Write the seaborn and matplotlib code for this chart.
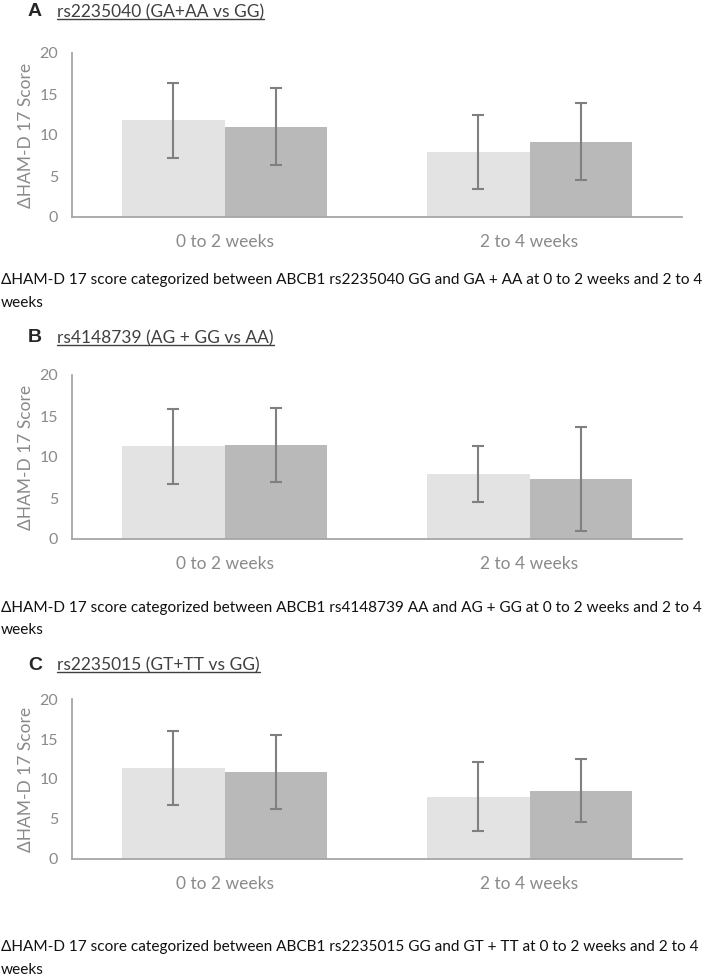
import matplotlib
matplotlib.use("Agg")
import matplotlib.pyplot as plt
import seaborn as sns
import pandas as pd
from matplotlib.lines import Line2D

periods = ["0 to 2 weeks", "2 to 4 weeks"]

# Panel A: rs2235040
A_groups = ["GG", "GA + AA"]
A_light = [11.8, 7.9]
A_light_sd = [4.6, 4.5]
A_dark = [11.0, 9.2]
A_dark_sd = [4.7, 4.7]

# Panel B: rs4148739
B_groups = ["AA", "AG + GG"]
B_light = [11.3, 7.9]
B_light_sd = [4.55, 3.4]
B_dark = [11.45, 7.3]
B_dark_sd = [4.55, 6.35]

# Panel C: rs2235015
C_groups = ["GG", "GT + TT"]
C_light = [11.35, 7.8]
C_light_sd = [4.6, 4.35]
C_dark = [10.9, 8.55]
C_dark_sd = [4.6, 3.9]

letters = ["A", "B", "C"]
titles = ["rs2235040 (GA+AA vs GG)", "rs4148739 (AG + GG vs AA)", "rs2235015 (GT+TT vs GG)"]
captions_l1 = [
    "\u0394HAM-D 17 score categorized between ABCB1 rs2235040 GG and GA + AA at 0 to 2 weeks and 2 to 4",
    "\u0394HAM-D 17 score categorized between ABCB1 rs4148739 AA and AG + GG at 0 to 2 weeks and 2 to 4",
    "\u0394HAM-D 17 score categorized between ABCB1 rs2235015 GG and GT + TT at 0 to 2 weeks and 2 to 4",
]
caption_l2 = "weeks"
ylabel = "\u0394HAM-D 17 Score"
yticks = [0, 5, 10, 15, 20]

sns.set_theme(style="white")
FAM = ["Lato", "DejaVu Sans"]
plt.rcParams["font.family"] = FAM

W, H = 709, 976
fig = plt.figure(figsize=(W / 100, H / 100), dpi=100)

LIGHT = "#E3E3E3"
DARK = "#B9B9B9"
ERR = "#808080"
AX = "#A6A6A6"
TXT = "#8A8A8A"

# panel layout in pixels: (axes top, axes bottom, title y, caption y1, caption y2)
layout = [
    (53, 217, 12, 280, 303),
    (375, 539, 338, 608, 630),
    (699, 859, 665, 947, 970),
]

panels = [
    (A_groups, A_light, A_light_sd, A_dark, A_dark_sd),
    (B_groups, B_light, B_light_sd, B_dark, B_dark_sd),
    (C_groups, C_light, C_light_sd, C_dark, C_dark_sd),
]

def fx(px):
    return px / W

def fy(py):
    return 1 - py / H

underline_items = []
caption_items = []
for i, (groups, light, lsd, dark, dsd) in enumerate(panels):
    top, bot, ty, cy1, cy2 = layout[i]
    ax = fig.add_axes([fx(72), fy(bot), fx(682) - fx(72), (bot - top) / H])
    df = pd.DataFrame({
        "period": periods * 2,
        "group": [groups[0]] * 2 + [groups[1]] * 2,
        "score": light + dark,
    })
    sns.barplot(data=df, x="period", y="score", hue="group", order=periods,
                hue_order=groups, palette=[LIGHT, DARK], width=0.67,
                errorbar=None, saturation=1, ax=ax, legend=False, linewidth=0)
    vals = light + dark
    sds = lsd + dsd
    for p, v, s in zip(list(ax.patches), vals, sds):
        xc = p.get_x() + p.get_width() / 2
        ax.errorbar(xc, v, yerr=s, fmt="none", ecolor=ERR, elinewidth=1.5,
                    capsize=4, capthick=1.5, zorder=5)
    ax.set_xlim(-0.5, 1.5)
    ax.set_ylim(0, 20)
    ax.set_yticks(yticks)
    ax.set_xlabel("")
    ax.set_ylabel(ylabel, color=TXT, fontsize=12.5)
    for s in ["top", "right"]:
        ax.spines[s].set_visible(False)
    for s in ["left", "bottom"]:
        ax.spines[s].set_color(AX)
        ax.spines[s].set_linewidth(1.3)
    ax.tick_params(axis="y", length=0, pad=10, labelsize=11.5, labelcolor=TXT)
    ax.tick_params(axis="x", length=0, pad=12, labelsize=12.5, labelcolor=TXT)
    ax.yaxis.set_label_coords(-0.062, 0.5)

    fig.text(fx(28), fy(ty), letters[i], fontsize=14, fontweight="bold",
             color="#262626", va="center", ha="left",
             family=["Liberation Sans", "DejaVu Sans"])
    t = fig.text(fx(57), fy(ty), titles[i], fontsize=12.5, color="#404040",
                 va="center", ha="left")
    underline_items.append(t)
    c1 = fig.text(fx(1), fy(cy1), captions_l1[i], fontsize=12.6, color="#111111",
                  va="center", ha="left")
    c2 = fig.text(fx(1), fy(cy2), caption_l2, fontsize=12.6, color="#111111",
                  va="center", ha="left")
    caption_items.append((c1, c2))

# fit caption font size to the available width
fig.canvas.draw()
r = fig.canvas.get_renderer()
for c1, c2 in caption_items:
    w = c1.get_window_extent(renderer=r).width
    fs = c1.get_fontsize() * 704 / w
    c1.set_fontsize(fs)
    c2.set_fontsize(fs)

fig.canvas.draw()
for t in underline_items:
    bb = t.get_window_extent(renderer=r)
    y = bb.y0 + 1
    fig.add_artist(Line2D([bb.x0 / W, bb.x1 / W], [y / H, y / H],
                          color="#404040", lw=1.0, transform=fig.transFigure))

fig.savefig("out.png", dpi=100)
